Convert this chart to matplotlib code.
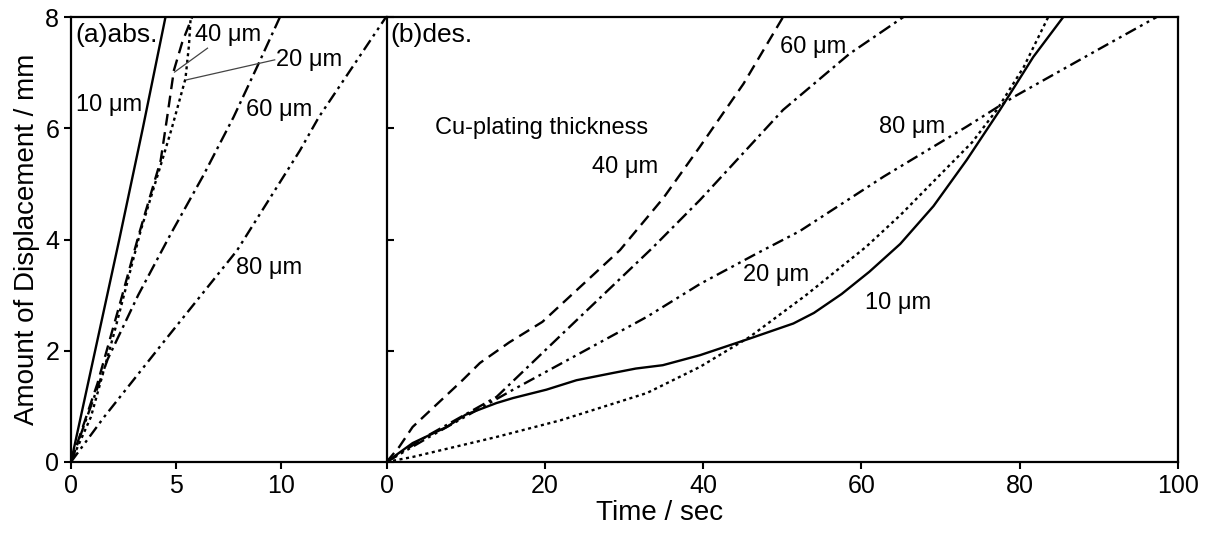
import matplotlib.pyplot as plt

plt.rcParams['font.family'] = ['Liberation Sans', 'DejaVu Sans']

# (a) absorption, time in sec, displacement in mm
abs_10_t = [0, 1.15, 2.3, 3.42, 4.5]
abs_10_y = [0, 2.0, 4.0, 6.0, 8.0]
abs_20_t = [0, 0.95, 2.05, 3.32, 4.34, 4.8, 5.45, 5.62, 5.7]
abs_20_y = [0, 0.81, 2.31, 4.16, 5.42, 6.0, 6.89, 7.5, 8.0]
abs_40_t = [0, 1.26, 2.37, 3.24, 4.27, 4.58, 4.9, 5.3, 5.77]
abs_40_y = [0, 1.41, 2.9, 4.1, 5.42, 6.2, 7.04, 7.55, 8.0]
abs_60_t = [0, 1.75, 3.2, 4.75, 6.3, 7.74, 8.93, 9.95]
abs_60_y = [0, 1.85, 3.0, 4.1, 5.15, 6.2, 7.16, 8.0]
abs_80_t = [0, 1.58, 4.5, 7.9, 10.9, 11.8, 13.4, 15.0]
abs_80_y = [0, 0.81, 2.2, 3.8, 5.6, 6.2, 7.1, 8.0]

# (b) desorption
des_10_t = [0, 3.3, 7.6, 10, 13.9, 16, 20.2, 24, 28.6, 31.5, 34.9, 39.6, 45.9,
            51.4, 54, 57.5, 61, 64.9, 69.1, 73.3, 77.5, 81.7, 85.5]
des_10_y = [0, 0.34, 0.63, 0.85, 1.06, 1.15, 1.3, 1.47, 1.6, 1.68, 1.74, 1.92, 2.22,
            2.49, 2.68, 3.02, 3.42, 3.92, 4.6, 5.43, 6.33, 7.28, 8.0]
des_20_t = [0, 3.3, 8, 13.9, 22, 32.9, 39.6, 45.9, 53, 60.6, 65, 69.7, 74, 77.1, 80.5, 83.6]
des_20_y = [0, 0.09, 0.25, 0.45, 0.75, 1.24, 1.71, 2.25, 3.0, 3.87, 4.45, 5.13, 5.75, 6.33, 7.1, 8.0]
des_40_t = [0, 1.6, 3.3, 9.6, 11.8, 15.5, 19.7, 29.5, 35, 39.6, 45.1, 50.1]
des_40_y = [0, 0.27, 0.63, 1.47, 1.78, 2.15, 2.52, 3.81, 4.75, 5.67, 6.8, 8.0]
des_60_t = [0, 5.4, 13.9, 22.7, 33.6, 39.6, 50.1, 58.5, 65.3]
des_60_y = [0, 0.49, 1.17, 2.37, 3.85, 4.71, 6.33, 7.34, 8.0]
des_80_t = [0, 5.4, 16, 32.9, 39.6, 46.8, 52.2, 62.8, 73.3, 79.2, 90.1, 97.3]
des_80_y = [0, 0.45, 1.3, 2.61, 3.2, 3.75, 4.15, 5.13, 6.03, 6.56, 7.43, 8.0]

styles = {
    '10': '-',
    '20': (0, (1.3, 1.5)),
    '40': (0, (5, 2.8)),
    '60': (0, (5.5, 2, 1.2, 2)),
    '80': (0, (5, 2, 1.2, 2, 1.2, 2)),
}

fig = plt.figure(figsize=(12.09, 5.37), dpi=100)
ax1 = fig.add_axes([0.0587, 0.1397, 0.2606, 0.8286])
ax2 = fig.add_axes([0.3197, 0.1397, 0.6547, 0.8286])

lw = 1.7
ax1.plot(abs_10_t, abs_10_y, color='black', lw=lw, linestyle=styles['10'])
ax1.plot(abs_20_t, abs_20_y, color='black', lw=lw, linestyle=styles['20'])
ax1.plot(abs_40_t, abs_40_y, color='black', lw=lw, linestyle=styles['40'])
ax1.plot(abs_60_t, abs_60_y, color='black', lw=lw, linestyle=styles['60'])
ax1.plot(abs_80_t, abs_80_y, color='black', lw=lw, linestyle=styles['80'])

ax2.plot(des_10_t, des_10_y, color='black', lw=lw, linestyle=styles['10'])
ax2.plot(des_20_t, des_20_y, color='black', lw=lw, linestyle=styles['20'])
ax2.plot(des_40_t, des_40_y, color='black', lw=lw, linestyle=styles['40'])
ax2.plot(des_60_t, des_60_y, color='black', lw=lw, linestyle=styles['60'])
ax2.plot(des_80_t, des_80_y, color='black', lw=lw, linestyle=styles['80'])

ax1.set_xlim(0, 15)
ax1.set_ylim(0, 8)
ax1.set_xticks([0, 5, 10])
ax1.set_yticks([0, 2, 4, 6, 8])
ax1.tick_params(labelsize=18, length=5, width=1.5, direction='out')
ax1.spines['right'].set_visible(False)

ax2.set_xlim(0, 100)
ax2.set_ylim(0, 8)
ax2.set_xticks([0, 20, 40, 60, 80, 100])
ax2.set_yticks([0, 2, 4, 6, 8])
ax2.tick_params(axis='x', labelsize=18, length=5, width=1.5, direction='out')
ax2.tick_params(axis='y', labelleft=False, length=5, width=1.5, direction='in')

for ax in (ax1, ax2):
    for s in ax.spines.values():
        s.set_linewidth(1.6)

ax1.set_ylabel('Amount of Displacement / mm', fontsize=20, labelpad=4)
ax2.set_xlabel('Time / sec', fontsize=20, labelpad=4)
ax2.xaxis.set_label_coords(0.345, -0.085)

fs = 17
ax1.text(0.19, 7.68, '(a)abs.', fontsize=19, va='center')
ax1.text(0.24, 6.42, '10 μm', fontsize=fs, va='center')
ax1.text(5.92, 7.68, '40 μm', fontsize=fs, va='center')
ax1.text(9.76, 7.23, '20 μm', fontsize=fs, va='center')
ax1.text(8.34, 6.33, '60 μm', fontsize=fs, va='center')
ax1.text(7.87, 3.49, '80 μm', fontsize=fs, va='center')
ax1.plot([6.5, 4.93], [7.44, 7.01], color='#444444', lw=0.9)
ax1.plot([9.7, 5.5], [7.23, 6.87], color='#444444', lw=0.9)

ax2.text(0.5, 7.68, '(b)des.', fontsize=19, va='center')
ax2.text(6.07, 6.0, 'Cu-plating thickness', fontsize=fs, va='center')
ax2.text(25.9, 5.31, '40 μm', fontsize=fs, va='center')
ax2.text(49.7, 7.46, '60 μm', fontsize=fs, va='center')
ax2.text(62.2, 6.03, '80 μm', fontsize=fs, va='center')
ax2.text(45.1, 3.36, '20 μm', fontsize=fs, va='center')
ax2.text(60.4, 2.86, '10 μm', fontsize=fs, va='center')

fig.savefig('out.png', dpi=100)
